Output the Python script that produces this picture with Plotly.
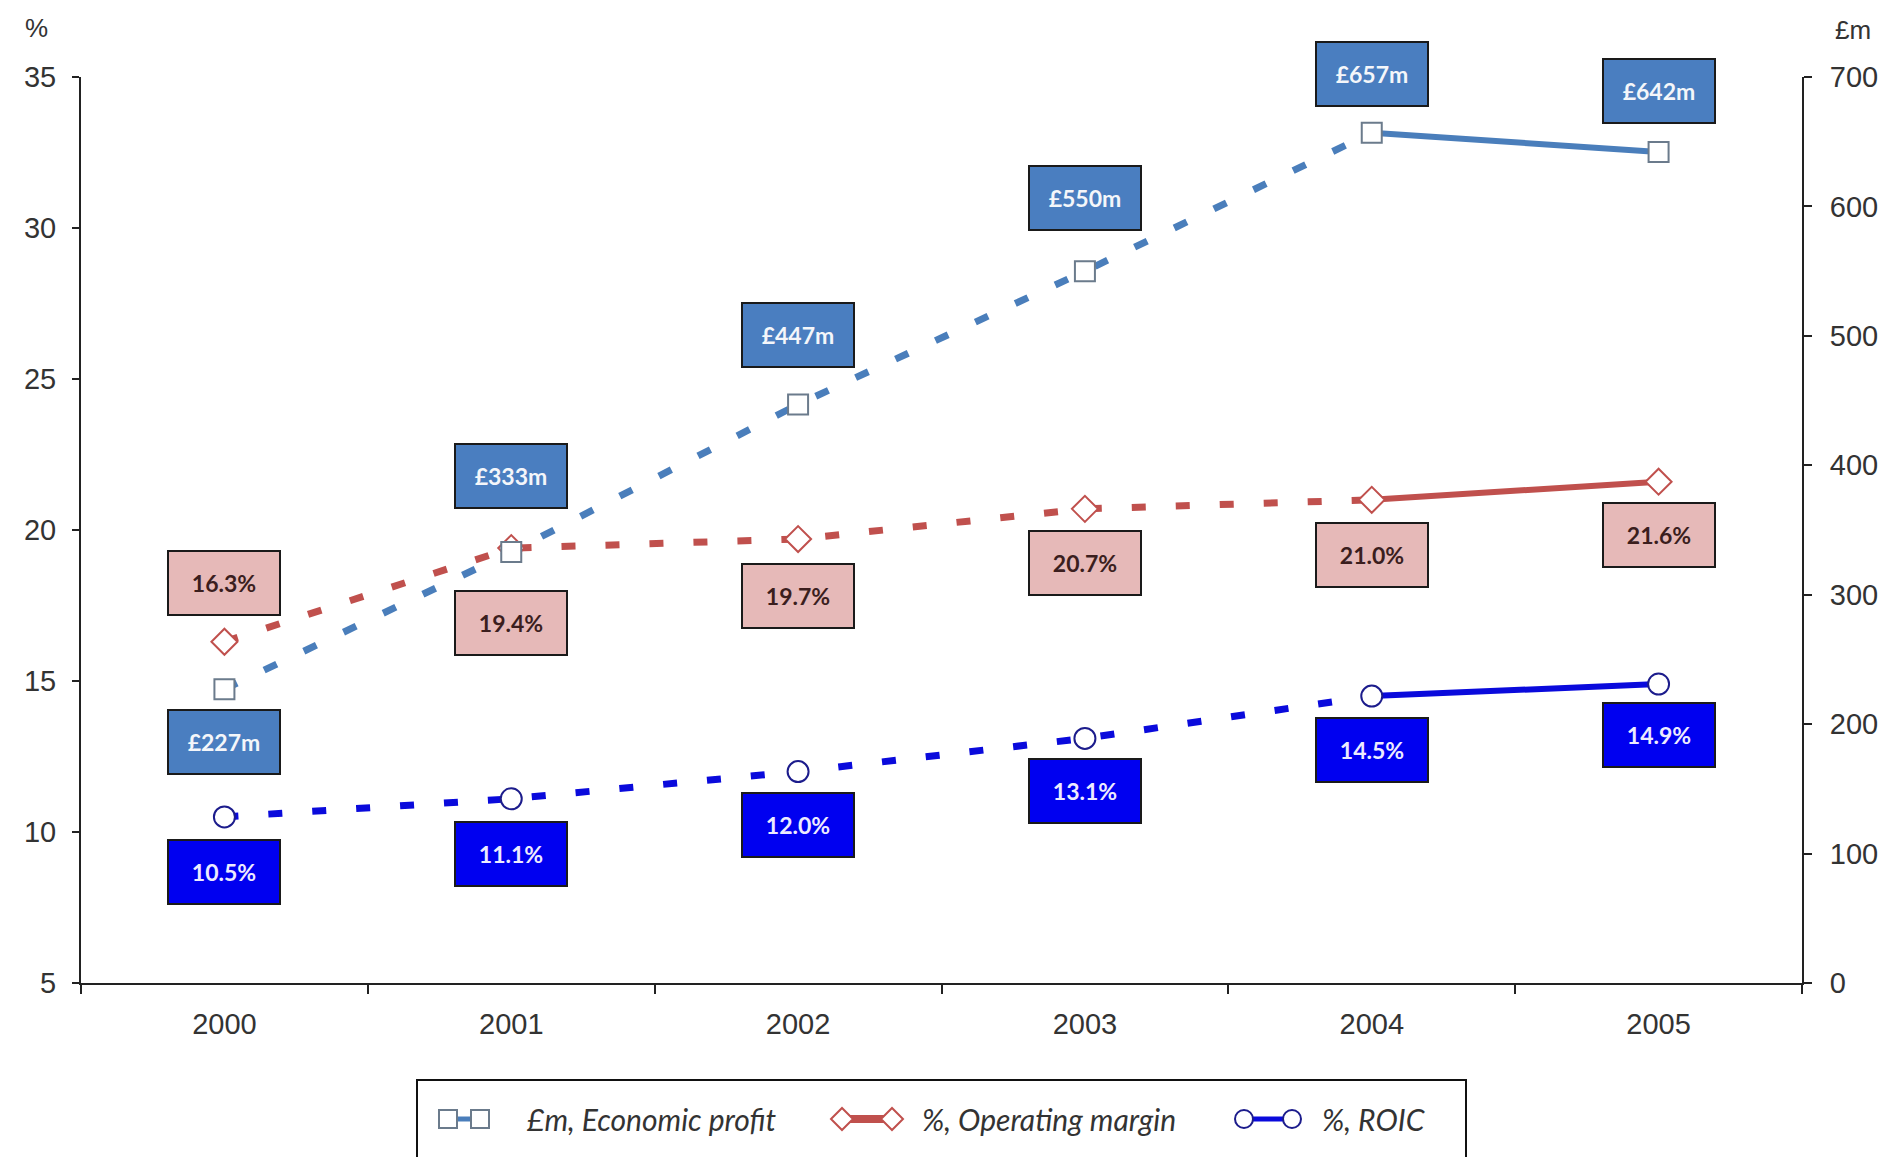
import plotly.graph_objects as go

# ---- data ----
years = ["2000", "2001", "2002", "2003", "2004", "2005"]
economic_profit = [227, 333, 447, 550, 657, 642]        # £m, right axis
operating_margin = [16.3, 19.4, 19.7, 20.7, 21.0, 21.6]  # %, left axis
roic = [10.5, 11.1, 12.0, 13.1, 14.5, 14.9]              # %, left axis

# vertical offsets (px) of the value boxes relative to their points
ep_label_shift = [-53, 76, 69, 73, 59, 61]
om_label_shift = [59, -75, -57, -54, -55, -53]
roic_label_shift = [-55, -55, -53, -53, -54, -51]

# ---- styling ----
W, H = 1885, 1157
L, R, T, B = 81, 1802, 77, 983

EP_LINE = "#4A7EBB"
EP_BOX = "#4A7EC0"
EP_MARK = "#6B7B8C"
OM_LINE = "#C0504D"
OM_BOX = "#E6B9B8"
RO_LINE = "#0A0ADC"
RO_BOX = "#0000F0"
RO_MARK = "#1C1C8C"
DASH = "14px,30px"

AX_FONT = dict(family="Liberation Sans, Arial, sans-serif", size=29, color="#333333")
LBL_FONT = "Lato, Calibri, sans-serif"


def px(x):
    return (x - L) / (R - L)


def py(y):
    return (B - y) / (B - T)


fig = go.Figure()


def add_series(values, axis, color, width, symbol, mark_line, mark_size):
    # dashed run 2000-2004, solid 2004-2005, then markers on top
    fig.add_trace(go.Scatter(x=years[:5], y=values[:5], yaxis=axis, mode="lines",
                             line=dict(color=color, width=width, dash=DASH),
                             showlegend=False, hoverinfo="skip"))
    fig.add_trace(go.Scatter(x=years[4:], y=values[4:], yaxis=axis, mode="lines",
                             line=dict(color=color, width=width - 1),
                             showlegend=False, hoverinfo="skip"))
    fig.add_trace(go.Scatter(x=years, y=values, yaxis=axis, mode="markers",
                             marker=dict(symbol=symbol, size=mark_size, color="white",
                                         line=dict(color=mark_line, width=2)),
                             showlegend=False))


add_series(roic, "y", RO_LINE, 7, "circle", RO_MARK, 21)
add_series(operating_margin, "y", OM_LINE, 7, "diamond", OM_LINE, 20)
add_series(economic_profit, "y2", EP_LINE, 7, "square", EP_MARK, 20)

# ---- value boxes ----
annotations = []


def add_labels(values, yref, shifts, text_fmt, bg, fg):
    # x given as category index on the category axis
    for i, (v, s) in enumerate(zip(values, shifts)):
        annotations.append(dict(
            x=i, y=v, xref="x", yref=yref, yshift=s, showarrow=False,
            text=text_fmt(v), width=110, height=62, align="center", valign="middle",
            bgcolor=bg, bordercolor="#1a1a1a", borderwidth=2, borderpad=0,
            font=dict(family=LBL_FONT, size=23, color=fg, weight="bold")))


add_labels(economic_profit, "y2", ep_label_shift, lambda v: f"£{v}m", EP_BOX, "#F4F6FA")
add_labels(operating_margin, "y", om_label_shift, lambda v: f"{v:.1f}%", OM_BOX, "#3B1E1E")
add_labels(roic, "y", roic_label_shift, lambda v: f"{v:.1f}%", RO_BOX, "#EDEBFF")

# axis unit captions
annotations.append(dict(x=px(36), y=py(28), xref="paper", yref="paper", text="%",
                        showarrow=False, font=dict(AX_FONT, size=26),
                        xanchor="center", yanchor="middle"))
annotations.append(dict(x=px(1853), y=py(30), xref="paper", yref="paper", text="£m",
                        showarrow=False, font=dict(AX_FONT, size=26),
                        xanchor="center", yanchor="middle"))

# ---- legend (drawn by hand, box runs off the bottom edge) ----
shapes = []
LEG_Y = 1119
shapes.append(dict(type="rect", xref="paper", yref="paper",
                   x0=px(417), x1=px(1466), y0=py(1080), y1=py(1200),
                   line=dict(color="#111111", width=2), fillcolor="white", layer="below"))


def leg_line(x0, x1, color, width):
    shapes.append(dict(type="line", xref="paper", yref="paper",
                       x0=px(x0), x1=px(x1), y0=py(LEG_Y), y1=py(LEG_Y),
                       line=dict(color=color, width=width)))


def leg_square(cx, color):
    h = 9
    shapes.append(dict(type="rect", xref="paper", yref="paper",
                       x0=px(cx - h), x1=px(cx + h), y0=py(LEG_Y + h), y1=py(LEG_Y - h),
                       fillcolor="white", line=dict(color=color, width=2)))


def leg_diamond(cx, color):
    h = 11
    path = (f"M {px(cx - h)} {py(LEG_Y)} L {px(cx)} {py(LEG_Y - h)} "
            f"L {px(cx + h)} {py(LEG_Y)} L {px(cx)} {py(LEG_Y + h)} Z")
    shapes.append(dict(type="path", xref="paper", yref="paper", path=path,
                       fillcolor="white", line=dict(color=color, width=2)))


def leg_circle(cx, color):
    h = 9
    shapes.append(dict(type="circle", xref="paper", yref="paper",
                       x0=px(cx - h), x1=px(cx + h), y0=py(LEG_Y + h), y1=py(LEG_Y - h),
                       fillcolor="white", line=dict(color=color, width=2)))


leg_line(448, 480, EP_LINE, 5)
leg_square(448, EP_MARK)
leg_square(480, EP_MARK)
leg_line(842, 892, OM_LINE, 8)
leg_diamond(842, OM_LINE)
leg_diamond(892, OM_LINE)
leg_line(1244, 1292, RO_LINE, 5)
leg_circle(1244, RO_MARK)
leg_circle(1292, RO_MARK)

for x0, txt in [(525, "£m, Economic profit"), (920, "%, Operating margin"), (1320, "%, ROIC")]:
    annotations.append(dict(x=px(x0), y=py(LEG_Y), xref="paper", yref="paper", text=txt,
                            showarrow=False, xanchor="left", yanchor="middle",
                            font=dict(family=LBL_FONT, size=30, color="#333333",
                                      style="italic")))

fig.update_layout(
    width=W, height=H,
    margin=dict(l=L, r=W - R, t=T, b=H - B, autoexpand=False),
    paper_bgcolor="white", plot_bgcolor="white",
    showlegend=False,
    xaxis=dict(type="category", range=[-0.5, 5.5], tickson="boundaries",
               ticks="outside", ticklen=9, tickwidth=2, tickcolor="#222222",
               showline=True, linecolor="#222222", linewidth=2, showgrid=False,
               zeroline=False, tickfont=AX_FONT, ticklabelstandoff=14),
    yaxis=dict(range=[5, 35], dtick=5, ticks="outside", ticklen=7, tickwidth=2,
               tickcolor="#222222", showline=True, linecolor="#222222", linewidth=2,
               showgrid=False, zeroline=False, tickfont=AX_FONT, ticklabelstandoff=10),
    yaxis2=dict(range=[0, 700], dtick=100, overlaying="y", side="right",
                ticks="outside", ticklen=8, tickwidth=2, tickcolor="#222222",
                showline=True, linecolor="#222222", linewidth=2, showgrid=False,
                zeroline=False, tickfont=AX_FONT, ticklabelstandoff=12),
    annotations=annotations,
    shapes=shapes,
)

fig.write_html("out.html")
